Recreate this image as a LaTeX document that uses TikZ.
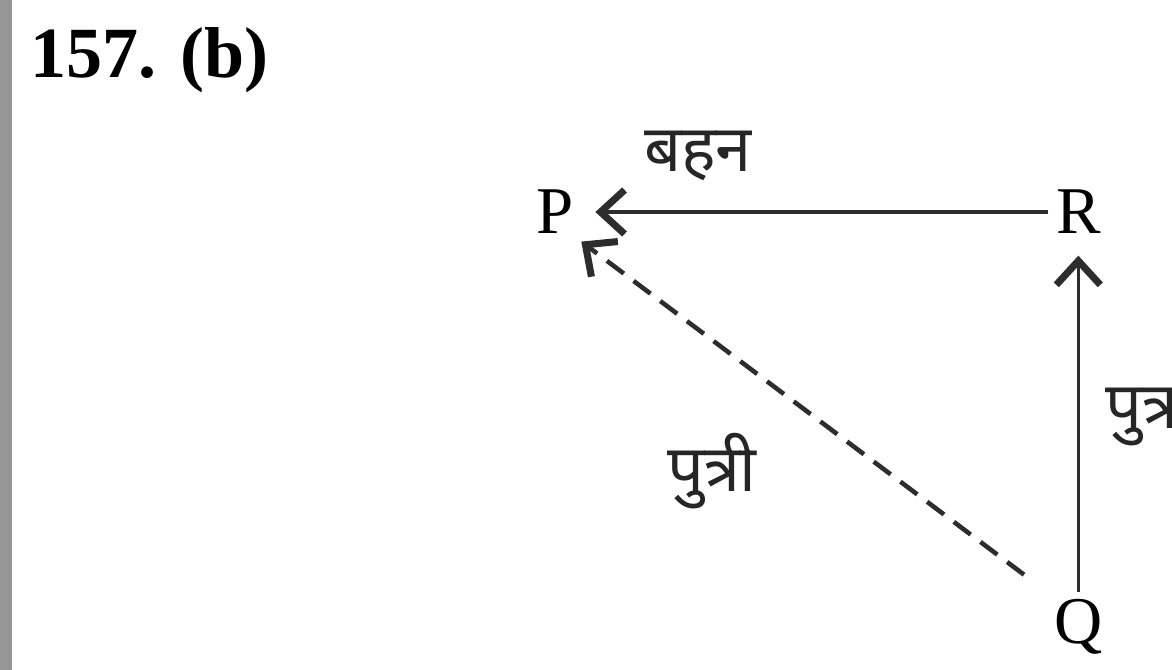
\documentclass[tikz,border=0pt]{standalone}
\usepackage{fontspec}
\setmainfont{Liberation Serif}
\newfontfamily\devfont[Script=Devanagari]{Noto Sans}
\usepackage{tikz}
\usetikzlibrary{arrows.meta, positioning}
\definecolor{myline}{RGB}{45,45,45}
\definecolor{myedge}{RGB}{150,150,150}

\begin{document}
\begin{tikzpicture}[
    node distance=3.5cm and 4.67cm,
    letter/.style={inner sep=2pt, font=\fontsize{19}{22}\selectfont},
    rel/.style={font=\devfont\fontsize{18.5}{21}\selectfont, text=black!85},
    arrow/.style={-{Straight Barb[length=2.4mm, width=4.4mm, line width=2pt]}, line width=1pt, myline, shorten >=2pt}
]
\useasboundingbox (0,0) rectangle (11.72,6.70);
\draw[myedge, line width=1.6mm] (0.04,0) -- (0.04,6.70);
\node[anchor=base west, inner sep=0pt, font=\bfseries\fontsize{20.5}{24}\selectfont] (title) at (0.30,5.92) {157. (b)};

\node[letter] (P) at (5.55,4.58) {P};
\node[letter, right=of P] (R) {R};
\node[letter, below=of R] (Q) {Q};

\draw[arrow, shorten >=4pt] (R) -- node[rel, above=5pt, pos=0.75] (sister) {बहन} (P);
\draw[arrow, shorten >=4pt] (Q) -- node[rel, right=4pt, pos=0.5, anchor=west] (son) {पुत्र} (R);
\draw[arrow, dashed, line width=1.3pt, dash pattern=on 6pt off 3.5pt, shorten <=8pt, shorten >=0pt] (Q.north west) -- node[rel, below left=8pt, pos=0.55] (daughter) {पुत्री} (P.south east);
\end{tikzpicture}
\end{document}
